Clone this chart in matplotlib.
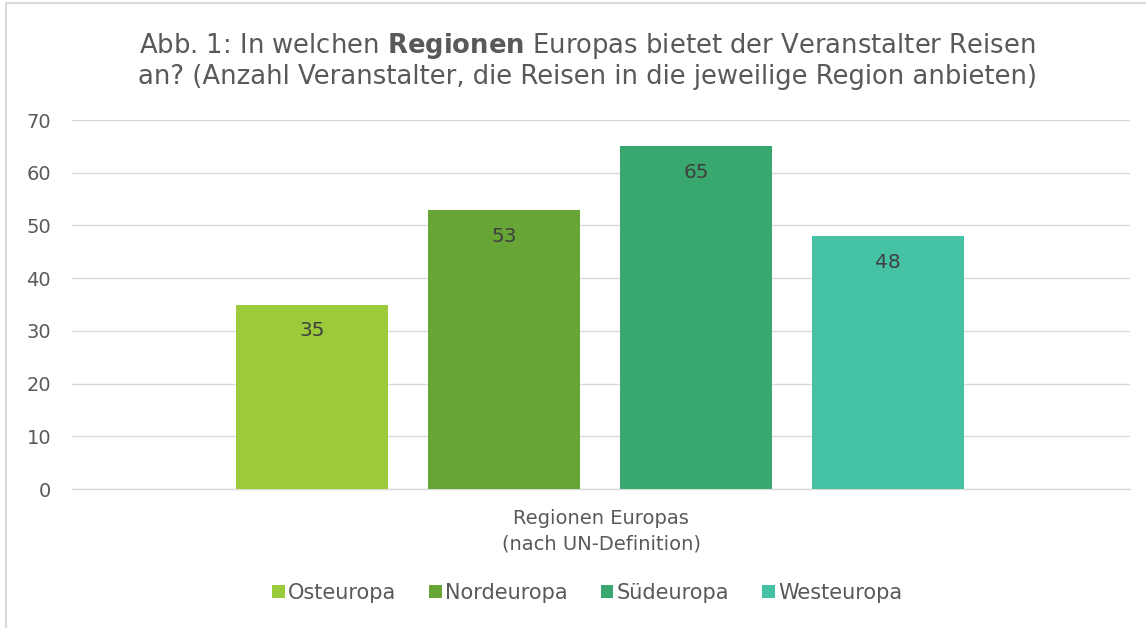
import matplotlib.pyplot as plt
import matplotlib.patches as mpatches

plt.rcParams['font.family'] = ['DejaVu Sans']
plt.rcParams['mathtext.fontset'] = 'dejavusans'

regionen = ['Osteuropa', 'Nordeuropa', 'Südeuropa', 'Westeuropa']
anzahl = [35, 53, 65, 48]
farben = ['#9BCB3B', '#66A536', '#38A86E', '#45C1A4']
y_ticks = [0, 10, 20, 30, 40, 50, 60, 70]

fig = plt.figure(figsize=(11.46, 6.28), dpi=100)
ax = fig.add_axes([0.0628, 0.2213, 0.9232, 0.5876])

# Balken
for i, (name, wert, farbe) in enumerate(zip(regionen, anzahl, farben)):
    ax.bar(i, wert, width=0.79, color=farbe, label=name, zorder=3)
    ax.annotate(str(wert), (i, wert), xytext=(0, -19), textcoords='offset points',
                ha='center', va='center', fontsize=14.5, color='#404040', zorder=4)

ax.set_xlim(-1.25, 4.26)
ax.set_ylim(0, 70)
ax.set_yticks(y_ticks)
ax.set_xticks([])
ax.yaxis.grid(True, color='#D9D9D9', linewidth=1.0, zorder=0)
for s in ['top', 'right', 'left']:
    ax.spines[s].set_visible(False)
ax.spines['bottom'].set_color('#D9D9D9')
ax.spines['bottom'].set_linewidth(1.0)
ax.tick_params(axis='y', length=0, labelsize=14, labelcolor='#595959', pad=15)

# Titel
fig.text(0.5125, 0.904,
         'Abb. 1: In welchen $\\mathbf{Regionen}$ Europas bietet der Veranstalter Reisen\n'
         'an? (Anzahl Veranstalter, die Reisen in die jeweilige Region anbieten)',
         ha='center', va='center', fontsize=18.6, color='#595959', linespacing=1.17)

# Achsentitel
fig.text(601 / 1146, 1 - 531 / 628, 'Regionen Europas\n(nach UN-Definition)',
         ha='center', va='center', fontsize=14, color='#595959', linespacing=1.4)

# Legende
fig.legend(loc='center', bbox_to_anchor=(587 / 1146, 1 - 593 / 628), ncol=4,
           frameon=False, fontsize=15, handlelength=0.6, handleheight=0.6,
           handletextpad=0.15, columnspacing=1.6, labelcolor='#595959')

# Rahmen des Diagrammbereichs
fig.patches.append(mpatches.Rectangle((6 / 1146, -0.05), 1.1, 1.05 - 3 / 628,
                                      fill=False, ec='#D9D9D9', lw=1.5,
                                      transform=fig.transFigure))

fig.savefig('out.png', dpi=100)
